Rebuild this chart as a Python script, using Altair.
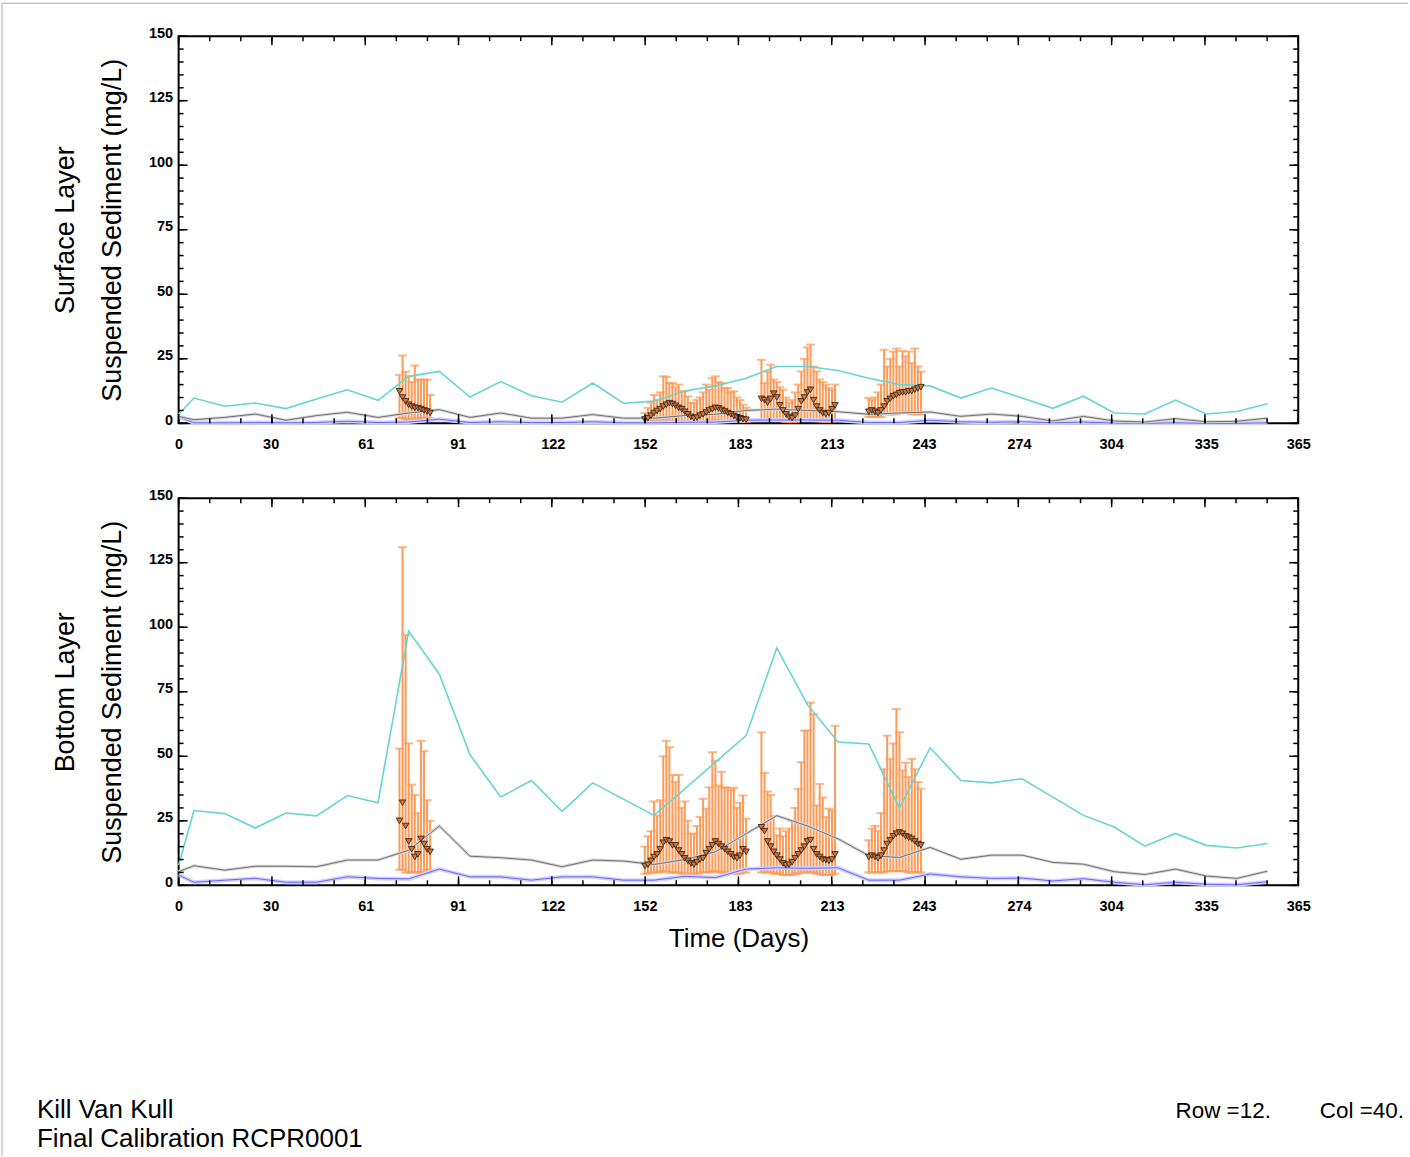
import altair as alt
import pandas as pd

# ---------------- data ----------------
MODEL_DAYS = [0, 5, 15, 25, 35, 45, 55, 65, 75, 85, 95, 105, 115, 125, 135, 145, 155, 165, 175,
              185, 195, 205, 215, 225, 235, 245, 255, 265, 275, 285, 295, 305, 315, 325, 335, 345, 355]

TOP_MAX = [3.5, 9.8, 6.6, 7.9, 5.7, 9.4, 13, 8.9, 18.2, 20.1, 10.2, 16.2, 10.7, 8.2, 15.6, 7.8, 8.6, 12.5, 14.5,
           17.5, 22, 22, 20.5, 17.5, 15, 14.5, 9.8, 13.7, 9.8, 5.8, 10.5, 4, 3.6, 9, 3.6, 4.6, 7.6]
TOP_MEAN = [2.7, 1.4, 2.3, 3.6, 1.2, 3, 4.3, 2.3, 4, 5.3, 2.3, 4, 2, 2, 3.4, 2, 2, 3, 3.5,
            5, 5.5, 5, 4.5, 3.5, 4, 4.4, 2.7, 3.6, 2.7, 0.9, 2.7, 0.9, 0.5, 1.8, 0.6, 0.8, 2]
TOP_MIN = [2.5, 0.2, 0.2, 0.3, 0.2, 0.3, 0.8, 0.3, 0.5, 1.6, 0.3, 0.6, 0.3, 0.3, 0.6, 0.2, 0.2, 0.4, 0.5,
           1.2, 1.3, 1.3, 1.2, 0.3, 0.3, 1.2, 0.6, 0.4, 0.6, 0.2, 0.5, 0.1, 0.0, 0.2, 0.0, 0.0, 0.2]

BOT_MAX = [7.8, 29, 27.8, 22.2, 28, 26.9, 34.8, 32, 98.5, 81.8, 50.6, 34.2, 40.6, 28.7, 39.7, 33.4, 27.1, 37.4, 47.7,
           58, 92, 70, 55.5, 54.8, 30, 53.3, 40.6, 39.7, 41.3, 34.2, 27.1, 22.6, 15.2, 20.1, 15.5, 14.5, 16.2]
BOT_MEAN = [5.3, 7.6, 5.9, 7.4, 7.4, 7.2, 9.8, 9.8, 13.6, 23, 11.3, 10.7, 9.8, 7.2, 9.8, 9.4, 8.1, 10, 13,
            20, 27, 23, 18, 11.5, 10.8, 14.7, 10.1, 11.7, 11.7, 8.9, 8.2, 5.3, 4.2, 6.3, 3.6, 2.7, 5.5]
BOT_MIN = [4, 1.2, 2, 2.7, 1.2, 1.2, 3.3, 2.7, 2.5, 6.3, 3.3, 3.3, 2, 3.3, 3.3, 2, 2, 3.5, 3,
           6.3, 6.8, 6.6, 6.8, 2, 2, 4.4, 3.3, 2.7, 2.8, 1.7, 2.6, 1.2, 0.2, 1.2, 0.4, 0.2, 1.4]

OBS_DAYS = ([72, 73, 74, 75, 76, 77, 78, 79, 80, 81, 82]
            + [152, 153, 154, 155, 156, 157, 158, 159, 160, 161, 162, 163, 164, 165, 166, 167, 168,
               169, 170, 171, 172, 173, 174, 175, 176, 177, 178, 179, 180, 181, 182, 183, 184, 185]
            + [190, 191, 192, 193, 194, 195, 196, 197, 198, 199, 200, 201, 202, 203, 204, 205, 206,
               207, 208, 209, 210, 211, 212, 213, 214]
            + [225, 226, 227, 228, 229, 230, 231, 232, 233, 234, 235, 236, 237, 238, 239, 240, 241, 242])

TOP_OBS = ([12.4, 10, 8.5, 7.2, 6.5, 6, 5.9, 5.5, 5, 4.6, 4]
           + [1.5, 2, 3, 4, 4.8, 5.5, 6.5, 7.2, 7.8, 7.5, 6.8, 6, 5.5, 4.5, 3.5, 2.5, 2, 2.2, 3, 3.5, 4.2,
              5, 5.5, 6, 5.8, 5.2, 4.6, 4, 3.5, 2.8, 2.3, 2, 1.6, 1.4]
           + [9.5, 9, 8, 9.5, 11.5, 10, 7, 5, 3.5, 2.5, 2, 3, 5.5, 8.5, 10, 12, 13, 9, 6.5, 5, 4, 3.5, 4, 5.5, 7]
           + [4.5, 5, 4.5, 4, 5, 6.5, 8.5, 9.5, 10.5, 11, 11.7, 12, 12, 12.4, 12.5, 13, 13.5, 14])
TOP_OBS_HI = ([18.8, 26.3, 20, 18.2, 16, 22.4, 17, 16.8, 17, 16.9, 11]
              + [4, 6, 8, 11, 9, 12, 18.2, 18, 15.6, 15.6, 14, 15, 12.4, 12.4, 10.4, 8, 7.8, 9, 10, 12, 15,
                 13, 17.5, 18.2, 16, 15.6, 13.7, 13.7, 12, 12.4, 10, 9, 7.2, 6]
              + [24.6, 15.6, 20, 22.7, 17, 16, 14, 13, 10, 8, 9, 12, 15, 20.1, 25, 29.4, 30.5, 22, 20.1, 17,
                 16, 15, 13.7, 13, 15]
              + [9.8, 9, 10, 12, 15, 28.5, 22, 25, 27.8, 29, 22, 28, 26, 27.8, 23.3, 29, 22, 20])
TOP_OBS_LO = ([2, 2, 1.5, 1.5, 1.5, 1.5, 2, 2, 2, 2, 2]
              + [0.5, 0.5, 0.8, 1, 1, 1, 1.2, 1.2, 1, 1, 1, 0.8, 0.8, 0.6, 0.5, 0.5, 0.5, 0.5, 0.6, 0.8, 0.8,
                 1, 1, 1.2, 1, 1, 0.8, 0.8, 0.6, 0.6, 0.5, 0.5, 0.5, 0.5]
              + [1.5, 1.5, 1.2, 1.2, 1.5, 1.2, 1, 0.8, 0.5, 0.5, 0.5, 0.5, 0.8, 1, 1.2, 1.5, 1.5, 1.2, 1, 0.8,
                 0.6, 0.6, 0.6, 0.8, 1]
              + [2.5, 2.5, 2.5, 2.5, 2.5, 3.5, 3.5, 3.5, 3.5, 3.5, 4, 4, 4, 4, 3.5, 3.5, 3.5, 3.5])

BOT_OBS = ([25, 32, 23, 17, 14, 11, 12, 18, 16, 14, 13]
           + [7.5, 8, 9.5, 11, 12, 14, 16.5, 17.5, 17, 15.5, 15.5, 13.5, 12, 10.5, 9.5, 8.5, 8, 9, 10, 10.5,
              12.5, 14, 15.5, 17, 16, 15, 14, 13, 12, 11, 10.5, 11.5, 14, 13]
           + [22.5, 21, 17, 15, 13, 11.5, 10, 8.5, 7.8, 8, 9, 10.5, 12, 13.5, 15, 17, 17.5, 14, 12, 11, 10,
              9.8, 9.5, 10, 12]
           + [11, 11.5, 11, 10.5, 11.5, 13.5, 16, 17.5, 19, 20, 20.5, 20, 19, 18.5, 18, 17, 16, 15.5])
BOT_OBS_HI = ([53, 131, 97, 55, 39, 35, 28, 56, 52, 33, 25]
              + [15, 19, 21, 32.5, 27, 33, 50, 56, 53.5, 42.8, 40, 42.8, 30, 32.5, 25, 20, 20, 23, 26.5, 33.5,
                 29.7, 38, 51.6, 48.3, 38.7, 44, 38, 37.8, 37, 37.8, 30, 32, 34.8, 25.8]
              + [59.3, 43.6, 36.4, 35, 27, 19.4, 22, 19, 21, 22, 25, 30, 37.4, 47.7, 59.9, 60, 70.8, 66.3, 31,
                 39.3, 34, 26.5, 29.7, 29, 61.8]
              + [17.5, 22, 23, 21, 28, 45, 58, 49, 55, 68.3, 59.3, 44.5, 47.5, 42, 49, 45, 40, 37.4])
BOT_OBS_LO = ([6, 6, 5, 5, 5, 5, 5, 5, 5, 6, 6]
              + [4.5, 4.5, 5, 5, 5, 5, 5.5, 5.5, 5, 5, 5, 5, 4.5, 4.5, 4.5, 4.5, 4.5, 4.5, 5, 5, 5, 5, 5.5,
                 5.5, 5, 5, 5, 5, 4.5, 4.5, 4.5, 4.5, 5, 5]
              + [5, 5, 5, 5, 4.5, 4.5, 4.5, 4, 4, 4, 4, 4.5, 4.5, 5, 5, 5, 5, 5, 4.5, 4.5, 4, 4, 4, 4, 4.5]
              + [5, 5, 5, 5, 5, 5, 5.5, 5.5, 5.5, 5.5, 5.5, 5.5, 5.5, 5, 5, 5, 5, 5])

X_LABELS = [0, 30, 61, 91, 122, 152, 183, 213, 243, 274, 304, 335, 365]
Y_LABELS = [0, 25, 50, 75, 100, 125, 150]

TOP_TITLE = ["Surface Layer", "Suspended Sediment (mg/L)"]
BOT_TITLE = ["Bottom Layer", "Suspended Sediment (mg/L)"]
X_TITLE = "Time (Days)"
FOOT_LINE1 = "Kill Van Kull"
FOOT_LINE2 = "Final Calibration RCPR0001"
FOOT_ROW = "Row =12."
FOOT_COL = "Col =40."

# ---------------- layout / style ----------------
W, H = 1122, 388
OX, OY = 178, 498          # page position of the lower panel's plot origin
FONT = "Liberation Sans"
ORANGE = "#ff9955"
CYAN = "#66d4d4"
GRAY = "#707070"
BLUE = "#6464ff"

XS = alt.Scale(domain=[0, 365], nice=False, zero=False)
YS = alt.Scale(domain=[0, 150], nice=False, zero=False)

X_MINOR = [i * 365 / 36 for i in range(37)]
X_MAJOR = [i * 365 / 12 for i in range(13)]
Y_MINOR = list(range(0, 151, 5))
Y_MAJOR = list(range(0, 151, 25))


def text_layer(txt, x, y, align, size):
    return alt.Chart(pd.DataFrame({"t": [txt]})).mark_text(
        align=align, baseline="middle", font=FONT, fontSize=size, color="black").encode(
        text="t:N", x=alt.value(x), y=alt.value(y))


def border_layer(x0, x1, y0, y1):
    return alt.Chart(pd.DataFrame({"t": [0]})).mark_rule(color="#a8a8a8", strokeWidth=1).encode(
        x=alt.value(x0), x2=alt.value(x1), y=alt.value(y0), y2=alt.value(y1))


def panel(ytitle, mx, mean, mn, o_mean, o_lo, o_hi, with_xtitle, footer):
    model = pd.DataFrame({"day": MODEL_DAYS, "mx": mx, "mean": mean, "mn": mn})
    obs = pd.DataFrame({"day": OBS_DAYS, "m": o_mean, "lo": o_lo, "hi": o_hi})

    xaxis_kw = dict(values=X_LABELS, format="d", ticks=False, tickSize=0, domain=False, grid=False,
                    labelFont=FONT, labelFontWeight="bold", labelFontSize=14.5, labelColor="black",
                    labelPadding=14, labelFlush=False, labelOverlap=False, labelBound=False)
    if with_xtitle:
        xaxis = alt.Axis(title=X_TITLE, titleFont=FONT, titleFontSize=26, titleFontWeight="normal",
                         titleColor="black", titlePadding=13, **xaxis_kw)
    else:
        xaxis = alt.Axis(title=None, **xaxis_kw)
    yaxis = alt.Axis(values=Y_LABELS, format="d", ticks=False, tickSize=0, domain=False, grid=False,
                     labelFont=FONT, labelFontWeight="bold", labelFontSize=14.5, labelColor="black",
                     labelPadding=6, labelOffset=-3, labelFlush=False, labelOverlap=False, labelBound=False,
                     title=ytitle, titleFont=FONT, titleFontSize=27, titleFontWeight="normal",
                     titleColor="black", titlePadding=22, titleLineHeight=47)

    bars = alt.Chart(obs).mark_rule(color=ORANGE, strokeWidth=2).encode(
        x=alt.X("day:Q", scale=XS, axis=xaxis),
        y=alt.Y("lo:Q", scale=YS, axis=yaxis),
        y2="hi:Q",
    )
    cap_hi = alt.Chart(obs).mark_tick(color=ORANGE, orient="horizontal", size=9, thickness=2).encode(
        x=alt.X("day:Q", scale=XS, axis=None), y=alt.Y("hi:Q", scale=YS, axis=None))
    cap_lo = alt.Chart(obs).mark_tick(color=ORANGE, orient="horizontal", size=9, thickness=2).encode(
        x=alt.X("day:Q", scale=XS, axis=None), y=alt.Y("lo:Q", scale=YS, axis=None))

    def line(field, color, width):
        return alt.Chart(model).mark_line(color=color, strokeWidth=width).encode(
            x=alt.X("day:Q", scale=XS, axis=None), y=alt.Y(f"{field}:Q", scale=YS, axis=None))

    lines = [line("mn", "#d2d2ff", 4), line("mn", BLUE, 1),
             line("mean", "#d6d6d6", 3), line("mean", GRAY, 1),
             line("mx", CYAN, 1.6)]

    pts = alt.Chart(obs).mark_point(shape="triangle-down", filled=True, size=42, fill="#c47a45",
                                    stroke="#3d2210", strokeWidth=0.9, opacity=1).encode(
        x=alt.X("day:Q", scale=XS, axis=None), y=alt.Y("m:Q", scale=YS, axis=None))

    def xt(vals, y0, y1):
        return alt.Chart(pd.DataFrame({"t": vals})).mark_rule(color="black", strokeWidth=1.5).encode(
            x=alt.X("t:Q", scale=XS, axis=None), y=alt.value(y0), y2=alt.value(y1))

    def yt(vals, x0, x1):
        return alt.Chart(pd.DataFrame({"t": vals})).mark_rule(color="black", strokeWidth=1.5).encode(
            y=alt.Y("t:Q", scale=YS, axis=None), x=alt.value(x0), x2=alt.value(x1))

    ticks = [xt(X_MINOR, H, H - 5), xt(X_MAJOR, H, H - 9), xt(X_MINOR, 0, 5), xt(X_MAJOR, 0, 9),
             yt(Y_MINOR, 0, 5), yt(Y_MAJOR, 0, 9), yt(Y_MINOR, W, W - 5), yt(Y_MAJOR, W, W - 9)]

    layers = [bars, cap_hi, cap_lo] + lines + [pts] + ticks

    if footer:
        layers += [text_layer(FOOT_LINE1, 36 - OX, 1111 - OY, "left", 26),
                   text_layer(FOOT_LINE2, 36 - OX, 1140 - OY, "left", 26),
                   text_layer(FOOT_ROW, 1177 - OX, 1112 - OY, "left", 22.5),
                   text_layer(FOOT_COL, 1406 - OX, 1112 - OY, "right", 22.5),
                   border_layer(1 - OX, 1410 - OX, 2 - OY, 2 - OY),
                   border_layer(1 - OX, 1 - OX, 2 - OY, 1157 - OY)]

    return (alt.layer(*layers)
            .resolve_axis(x="independent", y="independent")
            .properties(width=W, height=H))


top = panel(TOP_TITLE, TOP_MAX, TOP_MEAN, TOP_MIN, TOP_OBS, TOP_OBS_LO, TOP_OBS_HI, False, False)
bot = panel(BOT_TITLE, BOT_MAX, BOT_MEAN, BOT_MIN, BOT_OBS, BOT_OBS_LO, BOT_OBS_HI, True, True)

chart = alt.vconcat(top, bot, spacing=75, bounds="flush").properties(
    padding={"left": 0, "top": 0, "right": 0, "bottom": 0},
    background="white",
).configure_view(stroke="black", strokeWidth=2)

chart.save("out.html", embed_options={"renderer": "svg", "actions": False})
